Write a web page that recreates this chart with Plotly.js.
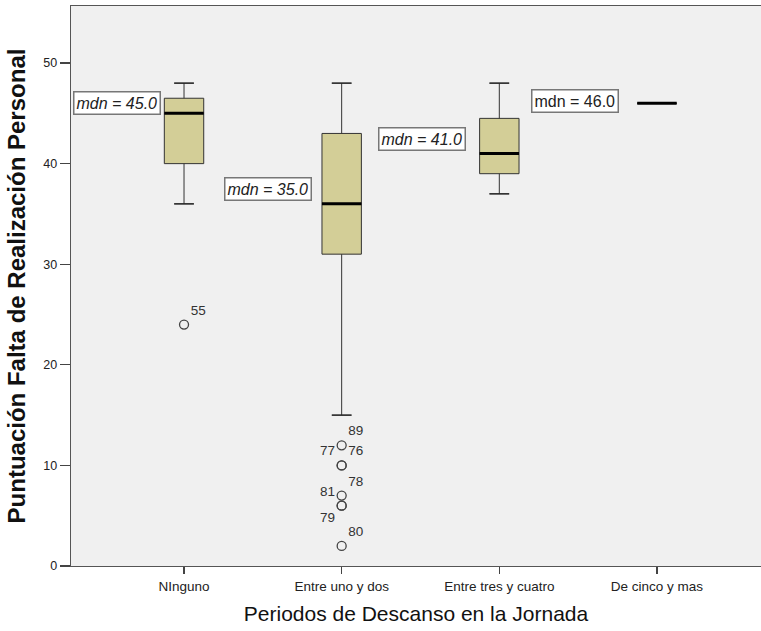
<!DOCTYPE html>
<html>
<head>
<meta charset="utf-8">
<script src="https://cdn.plot.ly/plotly-3.0.1.min.js"></script>
<style>html,body{margin:0;padding:0;background:#fff;}#chart{width:761px;height:631px;}</style>
</head>
<body>
<div id="chart"></div>
<script>
// ---- data ----
var categories = ['NInguno', 'Entre uno y dos', 'Entre tres y cuatro', 'De cinco y mas'];
var q1Values = [40, 31, 39, 46];
var medianValues = [45, 36, 41, 46];
var q3Values = [46.5, 43, 44.5, 46];
var lowerWhisker = [36, 15, 37, 46];
var upperWhisker = [48, 48, 48, 46];
var medianLabels = ['mdn = 45.0', 'mdn = 35.0', 'mdn = 41.0', 'mdn = 46.0'];

var outlierCategories = ['NInguno', 'Entre uno y dos', 'Entre uno y dos', 'Entre uno y dos', 'Entre uno y dos', 'Entre uno y dos', 'Entre uno y dos', 'Entre uno y dos'];
var outlierValues = [24, 12, 10, 10, 7, 6, 6, 2];
var outlierIds = ['55', '89', '77', '76', '78', '81', '79', '80'];

// ---- styles / positions (not data) ----
var outlierTextPos = ['top right', 'top right', 'top left', 'top right', 'top right', 'top left', 'bottom left', 'top right'];
var labelOffsetsX = [-0.425, -0.47, -0.49, -0.517];
var labelOffsetsY = [1.0, 1.5, 1.4, 0.2];
var labelItalic = [true, true, true, false];

var boxW = 0.25, capW = 0.125;
function flat(arr){ return arr.slice(); }

var traces = [
  { type: 'box', x: categories, q1: q1Values, median: medianValues, q3: q3Values,
    lowerfence: lowerWhisker, upperfence: upperWhisker, width: boxW,
    fillcolor: '#d3ce97', line: {color: '#333333', width: 1}, boxpoints: false,
    hoverinfo: 'skip', showlegend: false },
  // caps at upper whisker
  { type: 'box', x: categories, q1: flat(upperWhisker), median: flat(upperWhisker), q3: flat(upperWhisker),
    lowerfence: flat(upperWhisker), upperfence: flat(upperWhisker), width: capW,
    fillcolor: 'rgba(0,0,0,0)', line: {color: '#222222', width: 1.3}, boxpoints: false,
    hoverinfo: 'skip', showlegend: false },
  // caps at lower whisker
  { type: 'box', x: categories, q1: flat(lowerWhisker), median: flat(lowerWhisker), q3: flat(lowerWhisker),
    lowerfence: flat(lowerWhisker), upperfence: flat(lowerWhisker), width: capW,
    fillcolor: 'rgba(0,0,0,0)', line: {color: '#222222', width: 1.3}, boxpoints: false,
    hoverinfo: 'skip', showlegend: false },
  // thick median lines
  { type: 'box', x: categories, q1: flat(medianValues), median: flat(medianValues), q3: flat(medianValues),
    lowerfence: flat(medianValues), upperfence: flat(medianValues), width: boxW,
    fillcolor: '#000000', line: {color: '#000000', width: 3}, boxpoints: false,
    hoverinfo: 'skip', showlegend: false },
  // outliers
  { type: 'scatter', mode: 'markers+text', x: outlierCategories, y: outlierValues,
    text: outlierIds, textposition: outlierTextPos,
    textfont: {family: 'Liberation Sans, Arial, sans-serif', size: 13.5, color: '#333333'},
    marker: {symbol: 'circle-open', size: 9, color: '#444444', line: {width: 1.3}},
    hoverinfo: 'skip', showlegend: false, cliponaxis: false }
];

var annotations = categories.map(function(c, i){
  return {
    xref: 'x', yref: 'y', x: i + labelOffsetsX[i], y: medianValues[i] + labelOffsetsY[i],
    text: medianLabels[i], showarrow: false,
    font: {family: 'Liberation Sans, Arial, sans-serif', size: 16, color: '#222222',
           style: labelItalic[i] ? 'italic' : 'normal'},
    bgcolor: '#ffffff', bordercolor: '#777777', borderwidth: 1.5, borderpad: 2
  };
});

var layout = {
  width: 761, height: 631,
  margin: {l: 71, r: 0, t: 6, b: 65},
  paper_bgcolor: '#ffffff', plot_bgcolor: '#f0f0f0',
  boxmode: 'overlay',
  font: {family: 'Liberation Sans, Arial, sans-serif', color: '#222222'},
  xaxis: {
    type: 'category', categoryorder: 'array', categoryarray: categories,
    range: [-0.717, 3.66], showgrid: false, zeroline: false,
    showline: true, linecolor: '#555555', linewidth: 1.3, mirror: true,
    ticks: 'outside', ticklen: 7, tickcolor: '#444444', tickwidth: 1.3,
    tickfont: {size: 13.5, color: '#222222'},
    title: {text: 'Periodos de Descanso en la Jornada', font: {size: 21, color: '#111111'}, standoff: 13}
  },
  yaxis: {
    range: [0, 55.67], tickvals: [0, 10, 20, 30, 40, 50], showgrid: false, zeroline: false,
    showline: true, linecolor: '#555555', linewidth: 1.3,
    ticks: 'outside', ticklen: 10, tickcolor: '#444444', tickwidth: 1.3,
    tickfont: {size: 12.5, color: '#222222'},
    title: {text: '<b>Puntuación Falta de Realización Personal</b>', font: {size: 24, color: '#111111'}, standoff: 11}
  },
  annotations: annotations
};

Plotly.newPlot('chart', traces, layout, {displayModeBar: false, staticPlot: true});
</script>
</body>
</html>
